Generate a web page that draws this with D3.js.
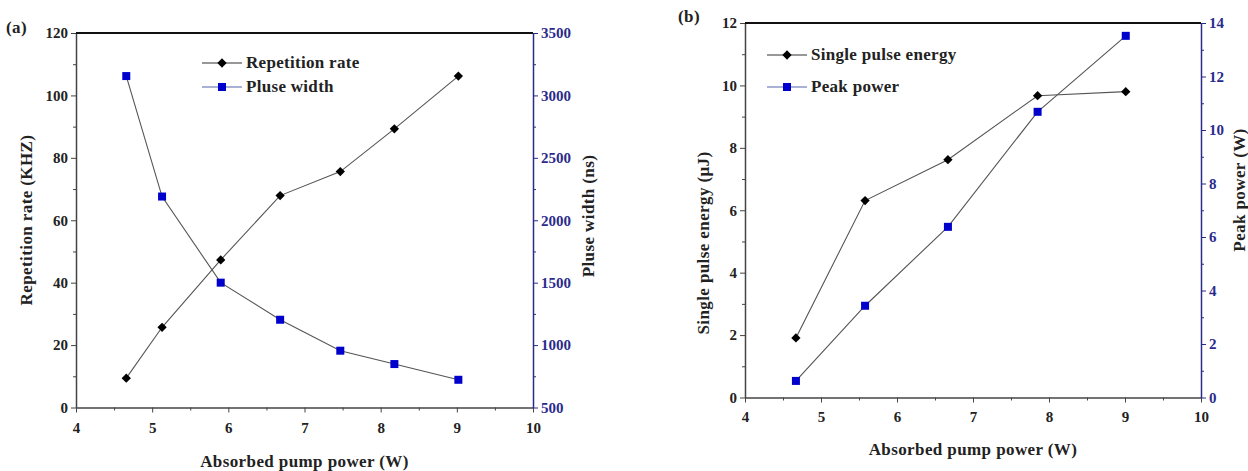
<!DOCTYPE html>
<html>
<head>
<meta charset="utf-8">
<script src="https://cdn.jsdelivr.net/npm/d3@7"></script>
<style>
  body { margin: 0; background: #fff; }
  svg { font-family: "Liberation Serif", "Times New Roman", serif; font-weight: bold; }
  .axis path, .axis line { stroke: #444; }
  .axis-blue path, .axis-blue line { stroke: #2b2b8c; }
  .title { font-size: 17px; fill: #222; letter-spacing: 0.4px; }
  .legend-text { font-size: 17px; fill: #222; letter-spacing: 0.3px; }
</style>
</head>
<body>
<svg id="chart" width="1248" height="471"></svg>
<script>
// Panel (a)
const powerA = [4.66, 5.13, 5.90, 6.68, 7.47, 8.18, 9.02];
const repRate = [9.4, 25.7, 47.3, 67.9, 75.6, 89.3, 106.2];
const pulseWidth = [3155, 2190, 1500, 1203, 955, 848, 722];

// Panel (b)
const powerB = [4.67, 5.58, 6.67, 7.85, 9.01];
const pulseEnergy = [1.91, 6.31, 7.62, 9.67, 9.80];
const peakPower = [0.62, 3.43, 6.38, 10.68, 13.52];

const xTicks = [4, 5, 6, 7, 8, 9, 10];

const svg = d3.select('#chart');
const fmt = d3.format('d');

// tick label look (D3 puts sans-serif attrs on the axis group)
function styleTicks(sel, color) {
    sel.attr('font-family', null).attr('font-size', null);
    sel.selectAll('text')
        .style('font-family', '"Liberation Serif", "Times New Roman", serif')
        .style('font-size', '15px')
        .style('font-weight', '700')
        .style('fill', color);
}

function drawPanel(cfg) {
    const g = svg.append('g');
    const x = d3.scaleLinear().domain([4, 10]).range([cfg.left, cfg.right]);
    const yL = d3.scaleLinear().domain(cfg.yLDomain).range([cfg.bottom, cfg.top]);
    const yR = d3.scaleLinear().domain(cfg.yRDomain).range([cfg.bottom, cfg.top]);

    // minor ticks first
    g.append('g').attr('class', 'axis')
        .attr('transform', `translate(0,${cfg.bottom})`)
        .call(d3.axisBottom(x).tickValues(d3.range(4.5, 10, 1)).tickSize(3).tickFormat(''))
        .select('.domain').remove();
    g.append('g').attr('class', 'axis')
        .attr('transform', `translate(${cfg.left},0)`)
        .call(d3.axisLeft(yL).tickValues(cfg.yLMinor).tickSize(3).tickFormat(''))
        .select('.domain').remove();
    g.append('g').attr('class', 'axis axis-blue')
        .attr('transform', `translate(${cfg.right},0)`)
        .call(d3.axisRight(yR).tickValues(cfg.yRMinor).tickSize(3).tickFormat(''))
        .select('.domain').remove();

    // major axes
    const xa = g.append('g').attr('class', 'axis')
        .attr('transform', `translate(0,${cfg.bottom})`)
        .call(d3.axisBottom(x).tickValues(xTicks).tickFormat(fmt).tickSize(5).tickSizeOuter(0).tickPadding(cfg.xPad));
    xa.select('.domain').attr('stroke-width', 1.5);
    styleTicks(xa, '#222');

    const la = g.append('g').attr('class', 'axis')
        .attr('transform', `translate(${cfg.left},0)`)
        .call(d3.axisLeft(yL).tickValues(cfg.yLTicks).tickFormat(fmt).tickSize(5).tickSizeOuter(0));
    la.select('.domain').attr('stroke-width', 1.5);
    styleTicks(la, '#222');

    const ra = g.append('g').attr('class', 'axis axis-blue')
        .attr('transform', `translate(${cfg.right},0)`)
        .call(d3.axisRight(yR).tickValues(cfg.yRTicks).tickFormat(fmt).tickSize(5).tickSizeOuter(0));
    ra.select('.domain').attr('stroke-width', 1.5);
    styleTicks(ra, '#2b2b8c');

    // top frame
    g.append('line')
        .attr('x1', cfg.left).attr('x2', cfg.right)
        .attr('y1', cfg.top).attr('y2', cfg.top)
        .attr('stroke', '#111').attr('stroke-width', 2);

    const lineL = d3.line().x((d, i) => x(cfg.xs[i])).y(d => yL(d));
    const lineR = d3.line().x((d, i) => x(cfg.xs[i])).y(d => yR(d));

    g.append('path').datum(cfg.sL).attr('d', lineL)
        .attr('fill', 'none').attr('stroke', '#555').attr('stroke-width', 1.1);
    g.append('path').datum(cfg.sR).attr('d', lineR)
        .attr('fill', 'none').attr('stroke', '#555').attr('stroke-width', 1.1);

    const diamond = d3.symbol().type(d3.symbolDiamond2).size(55);
    g.selectAll('.dia').data(cfg.sL).join('path')
        .attr('class', 'dia')
        .attr('transform', (d, i) => `translate(${x(cfg.xs[i])},${yL(d)})`)
        .attr('d', diamond).attr('fill', '#000');
    g.selectAll('.sq').data(cfg.sR).join('rect')
        .attr('class', 'sq')
        .attr('x', (d, i) => x(cfg.xs[i]) - 4)
        .attr('y', d => yR(d) - 4)
        .attr('width', 8).attr('height', 8)
        .attr('fill', '#0000cc');

    // axis titles
    g.append('text').attr('class', 'title')
        .attr('x', (cfg.left + cfg.right) / 2).attr('y', cfg.xTitleY)
        .attr('text-anchor', 'middle').text('Absorbed pump power (W)');
    g.append('text').attr('class', 'title')
        .attr('transform', `translate(${cfg.yLTitle[0]},${cfg.yLTitle[1]}) rotate(-90)`)
        .attr('text-anchor', 'middle').text(cfg.yLLabel);
    g.append('text').attr('class', 'title')
        .attr('transform', `translate(${cfg.yRTitle[0]},${cfg.yRTitle[1]}) rotate(-90)`)
        .attr('text-anchor', 'middle').text(cfg.yRLabel);

    // panel tag
    g.append('text').attr('class', 'title')
        .attr('x', cfg.tag[0]).attr('y', cfg.tag[1]).text(cfg.tagText);

    // legend
    const leg = g.append('g').attr('transform', `translate(${cfg.legend[0]},${cfg.legend[1]})`);
    [[cfg.nameL, 'dia'], [cfg.nameR, 'sq']].forEach(([name, kind], i) => {
        const yy = i * cfg.legendGap;
        leg.append('line').attr('x1', 0).attr('x2', 40).attr('y1', yy).attr('y2', yy)
            .attr('stroke', kind === 'dia' ? '#333' : '#5566aa').attr('stroke-width', 1.2);
        if (kind === 'dia') {
            leg.append('path').attr('transform', `translate(20,${yy})`).attr('d', diamond).attr('fill', '#000');
        } else {
            leg.append('rect').attr('x', 16).attr('y', yy - 4).attr('width', 8).attr('height', 8).attr('fill', '#0000cc');
        }
        leg.append('text').attr('class', 'legend-text').attr('x', 44).attr('y', yy + 5).text(name);
    });
}

drawPanel({
    left: 76, right: 533, top: 33, bottom: 407.5,
    xs: powerA, sL: repRate, sR: pulseWidth,
    yLDomain: [0, 120], yRDomain: [500, 3500],
    yLTicks: d3.range(0, 121, 20), yLMinor: d3.range(10, 120, 20),
    yRTicks: d3.range(500, 3501, 500), yRMinor: d3.range(750, 3500, 500),
    xPad: 10, xTitleY: 467,
    yLLabel: 'Repetition rate (KHZ)', yLTitle: [32, 220],
    yRLabel: 'Pluse width (ns)', yRTitle: [594, 216],
    tag: [6, 33], tagText: '(a)',
    legend: [202, 63], legendGap: 24,
    nameL: 'Repetition rate', nameR: 'Pluse width'
});

drawPanel({
    left: 745, right: 1201, top: 23, bottom: 397.5,
    xs: powerB, sL: pulseEnergy, sR: peakPower,
    yLDomain: [0, 12], yRDomain: [0, 14],
    yLTicks: d3.range(0, 13, 2), yLMinor: d3.range(1, 12, 2),
    yRTicks: d3.range(0, 15, 2), yRMinor: d3.range(1, 14, 2),
    xPad: 9, xTitleY: 455,
    yLLabel: 'Single pulse energy (\u03bcJ)', yLTitle: [709, 243],
    yRLabel: 'Peak power (W)', yRTitle: [1245, 190],
    tag: [678, 22], tagText: '(b)',
    legend: [767, 55], legendGap: 32,
    nameL: 'Single pulse energy', nameR: 'Peak power'
});
</script>
</body>
</html>
